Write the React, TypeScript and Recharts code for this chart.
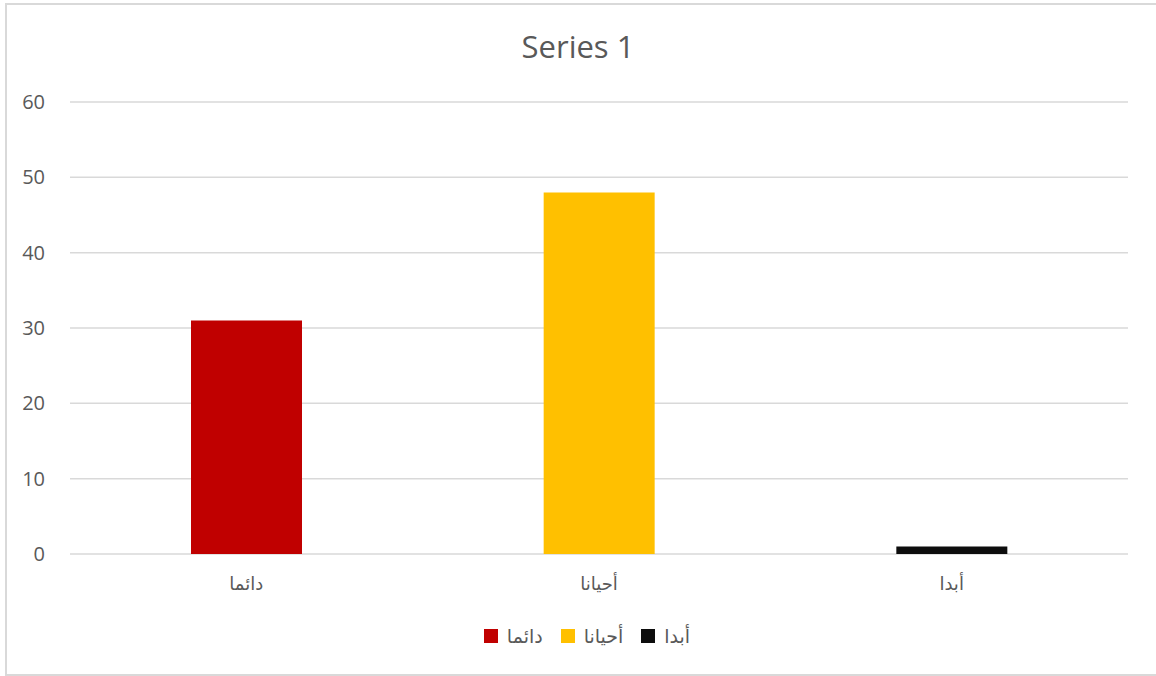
import React from "react";
import { BarChart, Bar, XAxis, YAxis, CartesianGrid, Cell, Legend } from "recharts";

const categories = ["دائما", "أحيانا", "أبدا"];
const values = [31, 48, 1];
const barColors = ["#C00000", "#FFC000", "#0D0D0D"];
const yTicks = [0, 10, 20, 30, 40, 50, 60];
const seriesName = "Series 1";

const TEXT = "#595959";
const GRID = "#D9D9D9";
const FONT = "'Open Sans', 'DejaVu Sans', sans-serif";

const data = categories.map((name, i) => ({ name, value: values[i] }));

function YTick({ x, y, payload }: any) {
  return (
    <text x={x - 17} y={y} dy={7} textAnchor="end" fill={TEXT} fontSize={20} fontFamily={FONT}>
      {payload.value}
    </text>
  );
}

function XTick({ x, y, payload }: any) {
  return (
    <text x={x} y={y} dy={28} textAnchor="middle" fill={TEXT} fontSize={18} fontFamily={FONT}>
      {payload.value}
    </text>
  );
}

function LegendContent() {
  return (
    <div
      style={{
        display: "flex",
        justifyContent: "center",
        alignItems: "center",
        gap: 18,
        height: 30,
        paddingLeft: 36,
      }}
    >
      {categories.map((c, i) => (
        <div key={c} style={{ display: "flex", alignItems: "center", gap: 9 }}>
          <span style={{ width: 14, height: 14, background: barColors[i], display: "inline-block" }} />
          <span style={{ color: TEXT, fontSize: 19, fontFamily: FONT }}>{c}</span>
        </div>
      ))}
    </div>
  );
}

export default function App() {
  return (
    <div style={{ position: "absolute", left: 0, top: 0, width: 1156, height: 676, overflow: "hidden", background: "#fff" }}>
      <div
        style={{
          position: "absolute",
          left: 5,
          top: 3,
          width: 1170,
          height: 669,
          border: `2px solid ${GRID}`,
        }}
      />
      <div
        style={{
          position: "absolute",
          top: 25,
          left: 0,
          width: 1156,
          textAlign: "center",
          color: TEXT,
          fontSize: 31,
          fontFamily: FONT,
        }}
      >
        {seriesName}
      </div>
      <div style={{ position: "absolute", left: 0, top: 0 }}>
        <BarChart
          width={1156}
          height={676}
          data={data}
          margin={{ top: 102, right: 28, bottom: 25, left: 10 }}
        >
          <CartesianGrid vertical={false} stroke={GRID} strokeWidth={1.5} />
          <XAxis
            dataKey="name"
            axisLine={false}
            tickLine={false}
            height={67}
            tick={<XTick />}
            interval={0}
          />
          <YAxis
            domain={[0, 60]}
            ticks={yTicks}
            axisLine={false}
            tickLine={false}
            width={60}
            tick={<YTick />}
          />
          <Legend verticalAlign="bottom" height={30} content={<LegendContent />} />
          <Bar dataKey="value" name={seriesName} barSize={111} isAnimationActive={false}>
            {data.map((d, i) => (
              <Cell key={d.name} fill={barColors[i]} />
            ))}
          </Bar>
        </BarChart>
      </div>
    </div>
  );
}
